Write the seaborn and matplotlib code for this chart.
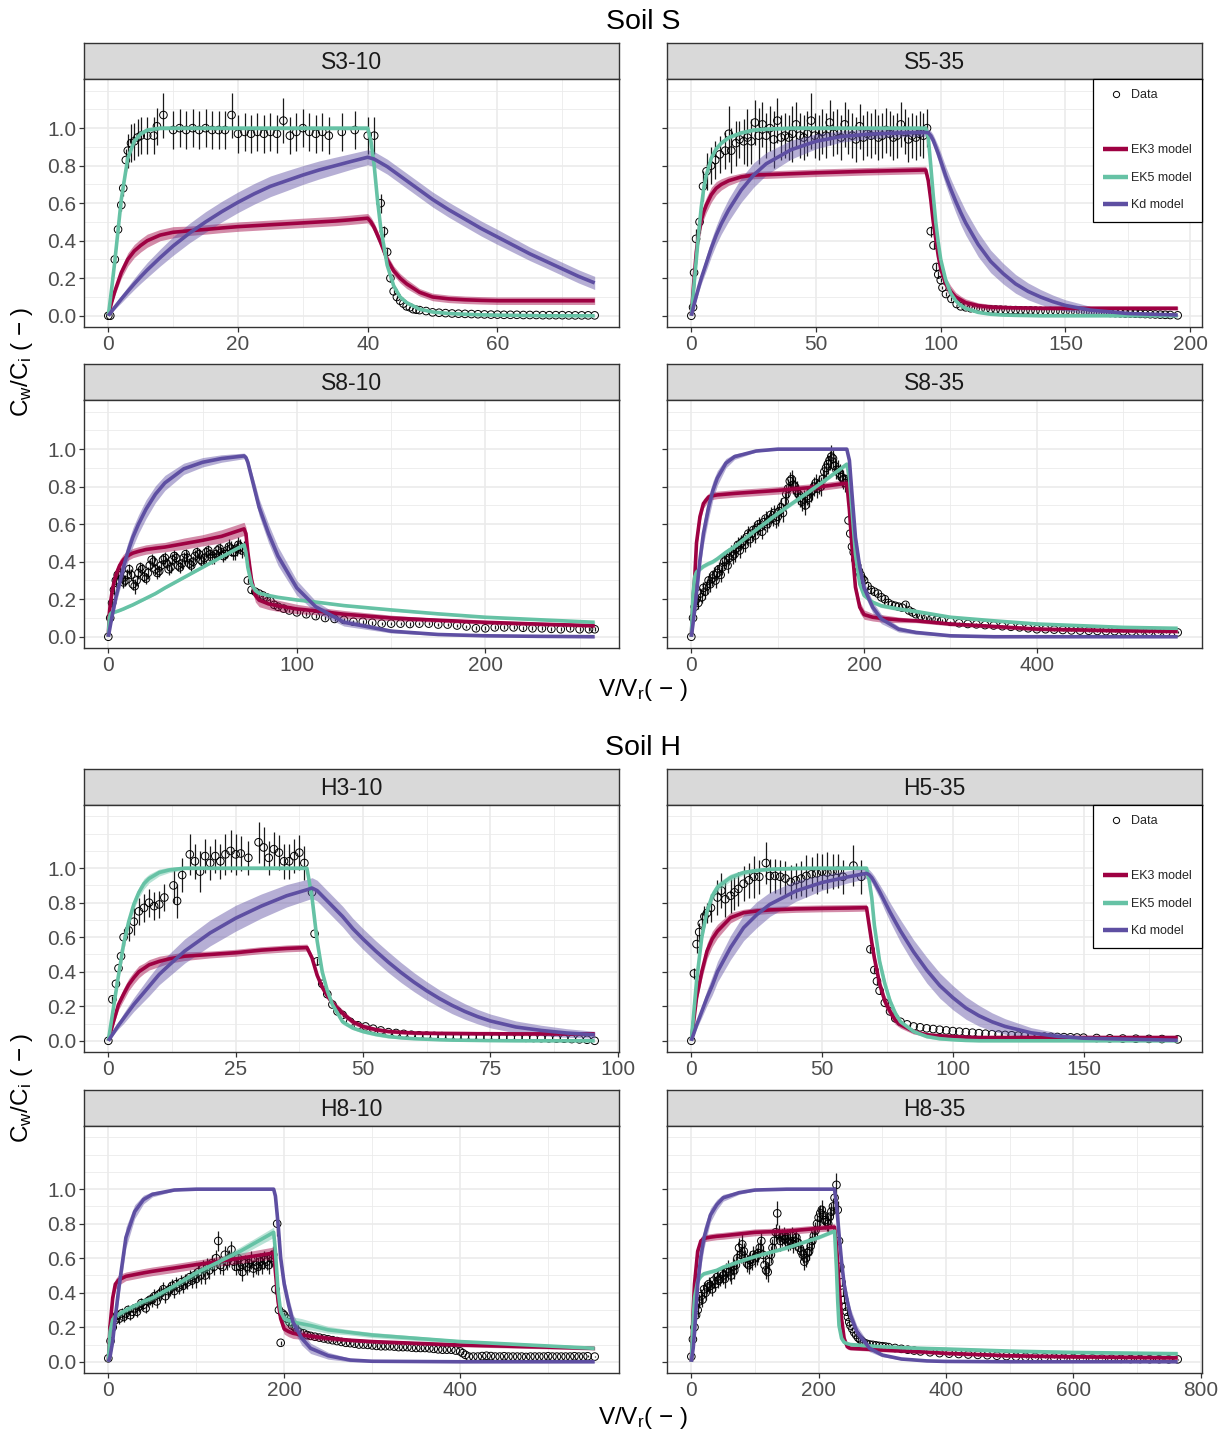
import sys
import numpy as np
import matplotlib
matplotlib.use("Agg")
import matplotlib.pyplot as plt
from matplotlib.ticker import FixedLocator, MultipleLocator, FormatStrFormatter
from matplotlib.lines import Line2D
import seaborn as sns

sns.set_theme(style="white")
plt.rcParams['font.family'] = ['Liberation Sans', 'DejaVu Sans']
plt.rcParams['mathtext.fontset'] = 'custom'
plt.rcParams['mathtext.rm'] = 'Liberation Sans'
plt.rcParams['mathtext.it'] = 'Liberation Sans:italic'
plt.rcParams['mathtext.default'] = 'regular'

# ---------------------------------------------------------------- data
MODEL_COLORS = {'EK3': '#9E0142', 'EK5': '#66C2A5', 'Kd': '#5E4FA2'}
LEGEND_LABELS = ['Data', 'EK3 model', 'EK5 model', 'Kd model']

# ---- S3-10
S310_x = [0, 0.5, 1, 2, 3, 4, 5, 6, 8, 10,
          12.5, 15, 17.5, 20, 22.5, 25, 27.5, 30, 32.5, 35,
          37.5, 40, 40.5, 41, 41.5, 42, 43, 44, 45, 46,
          48, 50, 52.5, 55, 57.5, 60, 62.5, 65, 67.5, 70,
          72.5, 75]
S310_ek3 = [0, 0.07, 0.13, 0.23, 0.30, 0.345, 0.375, 0.40, 0.43, 0.445,
            0.453, 0.46, 0.468, 0.475, 0.48, 0.485, 0.49, 0.495, 0.50, 0.505,
            0.512, 0.52, 0.50, 0.47, 0.43, 0.39, 0.30, 0.24, 0.20, 0.17,
            0.125, 0.10, 0.09, 0.085, 0.082, 0.08, 0.08, 0.08, 0.08, 0.08,
            0.08, 0.08]
S310_ek3w = [0, 0.01, 0.02, 0.03, 0.035, 0.035, 0.035, 0.035, 0.03, 0.03,
             0.025, 0.025, 0.025, 0.025, 0.025, 0.025, 0.025, 0.025, 0.025, 0.025,
             0.025, 0.025, 0.025, 0.025, 0.025, 0.025, 0.025, 0.025, 0.025, 0.025,
             0.02, 0.02, 0.02, 0.02, 0.02, 0.02, 0.02, 0.02, 0.02, 0.02,
             0.02, 0.02]
S310_ek5 = [0, 0.14, 0.29, 0.62, 0.84, 0.93, 0.97, 0.99, 1.0, 1.0,
            1.0, 1.0, 1.0, 1.0, 1.0, 1.0, 1.0, 1.0, 1.0, 1.0,
            1.0, 1.0, 0.93, 0.80, 0.62, 0.47, 0.27, 0.16, 0.10, 0.07,
            0.035, 0.02, 0.012, 0.008, 0.005, 0.003, 0.002, 0.001, 0, 0,
            0, 0]
S310_ek5w = [0, 0.01, 0.01, 0.01, 0.01, 0.01, 0.01, 0.01, 0.01, 0.01,
             0.01, 0.01, 0.01, 0.01, 0.01, 0.01, 0.01, 0.01, 0.01, 0.01,
             0.01, 0.01, 0.01, 0.01, 0.01, 0.01, 0.01, 0.01, 0.01, 0.01,
             0.005, 0.005, 0.005, 0.005, 0.005, 0.005, 0.005, 0.005, 0.005, 0.005,
             0.005, 0.005]
S310_kd = [0, 0.023, 0.045, 0.089, 0.13, 0.17, 0.208, 0.244, 0.31, 0.372,
           0.44, 0.50, 0.555, 0.605, 0.65, 0.69, 0.72, 0.75, 0.777, 0.80,
           0.823, 0.845, 0.84, 0.835, 0.825, 0.815, 0.795, 0.77, 0.745, 0.72,
           0.67, 0.62, 0.565, 0.515, 0.465, 0.42, 0.375, 0.33, 0.29, 0.25,
           0.21, 0.175]
S310_kdw = [0, 0.005, 0.01, 0.02, 0.025, 0.03, 0.035, 0.04, 0.045, 0.05,
            0.052, 0.055, 0.055, 0.055, 0.055, 0.055, 0.053, 0.05, 0.048, 0.045,
            0.042, 0.04, 0.04, 0.04, 0.04, 0.04, 0.04, 0.04, 0.04, 0.04,
            0.04, 0.04, 0.04, 0.04, 0.04, 0.04, 0.038, 0.036, 0.035, 0.035,
            0.035, 0.035]
S310_dx = [0, 0.3, 1, 1.5, 2, 2.3, 2.7, 3, 3.5, 4,
           4.5, 5, 6, 7, 7.5, 8.5, 10, 11, 12, 13,
           14, 15, 16, 17, 18, 19, 20, 21, 22, 23,
           24, 25, 26, 27, 28, 29, 30, 31, 32, 33,
           34, 36, 38, 40, 41, 42, 42.5, 43, 43.5, 44,
           44.5, 45, 45.5, 46, 46.5, 47, 47.5, 48, 49, 50,
           51, 52, 53, 54, 55, 56, 57, 58, 59, 60,
           61, 62, 63, 64, 65, 66, 67, 68, 69, 70,
           71, 72, 73, 74, 75]
S310_dy = [0, 0, 0.30, 0.46, 0.59, 0.68, 0.83, 0.88, 0.92, 0.93,
           0.95, 0.96, 0.96, 0.96, 1.01, 1.07, 0.99, 1.0, 0.99, 1.0,
           0.99, 1.0, 0.99, 0.99, 0.99, 1.07, 0.97, 0.98, 0.97, 0.98,
           0.97, 0.98, 0.97, 1.04, 0.96, 0.98, 1.0, 0.98, 0.97, 0.98,
           0.96, 0.98, 0.99, 0.96, 0.96, 0.60, 0.45, 0.34, 0.20, 0.13,
           0.10, 0.08, 0.065, 0.05, 0.045, 0.035, 0.032, 0.03, 0.025, 0.018,
           0.016, 0.014, 0.012, 0.011, 0.01, 0.009, 0.008, 0.007, 0.006, 0.006,
           0.005, 0.005, 0.005, 0.004, 0.004, 0.004, 0.003, 0.003, 0.003, 0.003,
           0.002, 0.002, 0.002, 0.002, 0.002]
S310_de = [0, 0, 0.02, 0.02, 0.03, 0.04, 0.06, 0.09, 0.1, 0.1,
           0.1, 0.1, 0.1, 0.1, 0.1, 0.12, 0.1, 0.1, 0.1, 0.1,
           0.1, 0.1, 0.1, 0.1, 0.1, 0.12, 0.1, 0.1, 0.1, 0.1,
           0.1, 0.1, 0.1, 0.12, 0.1, 0.1, 0.1, 0.1, 0.1, 0.1,
           0.1, 0.1, 0.1, 0.1, 0.1, 0.05, 0.03, 0.02, 0.02, 0.01,
           0.01, 0, 0, 0, 0, 0, 0, 0, 0, 0,
           0, 0, 0, 0, 0, 0, 0, 0, 0, 0,
           0, 0, 0, 0, 0, 0, 0, 0, 0, 0,
           0, 0, 0, 0, 0]

# ---- S5-35
S535_x = [0, 1, 2, 3, 4, 5, 6, 8, 10, 12,
          15, 20, 25, 30, 40, 50, 60, 70, 80, 94,
          95, 96, 97, 98, 99, 100, 102, 104, 106, 108,
          110, 115, 120, 125, 130, 135, 140, 145, 150, 160,
          175, 195]
S535_ek3 = [0, 0.18, 0.34, 0.44, 0.51, 0.555, 0.59, 0.645, 0.68, 0.70,
            0.72, 0.74, 0.75, 0.752, 0.757, 0.762, 0.766, 0.77, 0.773, 0.777,
            0.72, 0.62, 0.50, 0.41, 0.32, 0.25, 0.17, 0.13, 0.10, 0.085,
            0.07, 0.054, 0.046, 0.044, 0.042, 0.041, 0.04, 0.04, 0.04, 0.04,
            0.04, 0.04]
S535_ek3w = [0, 0.02, 0.03, 0.035, 0.04, 0.04, 0.04, 0.04, 0.035, 0.03,
             0.025, 0.02, 0.02, 0.02, 0.02, 0.02, 0.02, 0.02, 0.02, 0.02,
             0.02, 0.025, 0.03, 0.03, 0.035, 0.035, 0.035, 0.03, 0.025, 0.02,
             0.02, 0.015, 0.015, 0.012, 0.01, 0.01, 0.01, 0.01, 0.01, 0.01,
             0.01, 0.01]
S535_ek5 = [0, 0.15, 0.30, 0.45, 0.58, 0.68, 0.75, 0.84, 0.89, 0.92,
            0.95, 0.975, 0.99, 0.995, 1.0, 1.0, 1.0, 1.0, 1.0, 1.0,
            0.95, 0.80, 0.64, 0.50, 0.39, 0.30, 0.19, 0.12, 0.08, 0.055,
            0.04, 0.018, 0.008, 0.004, 0.002, 0.001, 0, 0, 0, 0,
            0, 0]
S535_ek5w = [0, 0.01, 0.01, 0.01, 0.01, 0.01, 0.01, 0.01, 0.01, 0.01,
             0.01, 0.01, 0.01, 0.01, 0.01, 0.01, 0.01, 0.01, 0.01, 0.01,
             0.01, 0.01, 0.01, 0.01, 0.01, 0.01, 0.01, 0.01, 0.01, 0.01,
             0.01, 0.005, 0.005, 0.005, 0.005, 0.005, 0.005, 0.005, 0.005, 0.005,
             0.005, 0.005]
S535_kd = [0, 0.054, 0.105, 0.154, 0.20, 0.24, 0.28, 0.36, 0.43, 0.49,
           0.565, 0.67, 0.75, 0.81, 0.885, 0.93, 0.955, 0.967, 0.973, 0.977,
           0.975, 0.96, 0.935, 0.90, 0.865, 0.825, 0.745, 0.675, 0.61, 0.55,
           0.495, 0.38, 0.29, 0.225, 0.17, 0.13, 0.10, 0.075, 0.055, 0.03,
           0.012, 0.004]
S535_kdw = [0, 0.01, 0.02, 0.025, 0.03, 0.035, 0.04, 0.045, 0.05, 0.055,
            0.06, 0.065, 0.065, 0.06, 0.05, 0.04, 0.03, 0.025, 0.02, 0.02,
            0.02, 0.025, 0.03, 0.035, 0.04, 0.045, 0.05, 0.055, 0.06, 0.065,
            0.065, 0.065, 0.06, 0.055, 0.05, 0.045, 0.04, 0.035, 0.03, 0.02,
            0.01, 0.005]
S535_dx = [0, 0.7, 1.1, 1.9, 3.3, 4.7, 6.1, 7.9, 9.6, 11.4,
           13.6, 15, 16, 17.9, 19.3, 21, 22.5, 24, 25.5, 27,
           28.5, 30, 31.5, 33, 34.5, 36, 37.5, 39, 40.5, 42,
           43.5, 45, 46.5, 48, 49.5, 51, 52.5, 54, 55.5, 57,
           58.5, 60, 61.5, 63, 64.5, 66, 67.5, 69, 70.5, 72,
           73.5, 75, 76.5, 78, 79.5, 81, 82.5, 84, 85.5, 87,
           88.5, 90, 91.5, 93, 94.5, 96, 97.1, 98.3, 99, 100,
           100.7, 102.1, 104.3, 106.4,
           108, 110, 112, 114, 116, 118, 120, 122, 124, 126,
           128, 130, 132, 134, 136, 138, 140, 142, 144, 146,
           148, 150, 152, 154, 156, 158, 160, 162, 164, 166,
           168, 170, 172, 174, 176, 178, 180, 182, 184, 186,
           188, 190, 192, 195]
S535_dy = [0, 0.045, 0.23, 0.41, 0.50, 0.69, 0.77, 0.80, 0.83, 0.86,
           0.88, 0.97, 0.88, 0.92, 0.94, 0.93, 0.95, 0.93, 1.03, 0.96,
           1.02, 0.96, 1.00, 0.94, 1.04, 0.95, 0.96, 0.95, 0.97, 1.02,
           0.96, 0.95, 0.97, 1.04, 0.96, 0.95, 0.98, 0.96, 1.03, 0.97,
           0.98, 0.95, 1.02, 0.98, 0.96, 0.94, 1.01, 0.95, 0.97, 0.96,
           0.98, 0.95, 0.96, 0.99, 0.97, 0.95, 0.96, 1.02, 0.98, 0.94,
           0.96, 0.95, 0.97, 0.96, 1.0, 0.45, 0.375, 0.26, 0.22, 0.19,
           0.15, 0.116, 0.09, 0.0625,
           0.05, 0.045, 0.04, 0.038, 0.036, 0.035, 0.034, 0.033, 0.032, 0.031,
           0.03, 0.03, 0.029, 0.028, 0.028, 0.027, 0.026, 0.025, 0.025, 0.024,
           0.023, 0.022, 0.021, 0.02, 0.02, 0.019, 0.018, 0.017, 0.016, 0.016,
           0.015, 0.014, 0.013, 0.012, 0.012, 0.011, 0.01, 0.009, 0.008, 0.007,
           0.006, 0.005, 0.004, 0.002]
S535_de = [0, 0.02, 0.03, 0.05, 0.06, 0.08, 0.1, 0.1, 0.1, 0.1,
           0.1, 0.15, 0.12, 0.12, 0.1, 0.12, 0.15, 0.12, 0.12, 0.15,
           0.12, 0.12, 0.12, 0.15, 0.12, 0.12, 0.12, 0.12, 0.15, 0.12,
           0.12, 0.12, 0.12, 0.15, 0.12, 0.12, 0.12, 0.12, 0.12, 0.12,
           0.12, 0.12, 0.12, 0.12, 0.12, 0.12, 0.12, 0.12, 0.12, 0.12,
           0.12, 0.12, 0.12, 0.12, 0.12, 0.12, 0.12, 0.12, 0.12, 0.12,
           0.12, 0.12, 0.12, 0.12, 0.1, 0.03, 0.02, 0.02, 0.02, 0.01,
           0.01, 0.01, 0.01, 0,
           0, 0, 0, 0, 0, 0, 0, 0, 0, 0,
           0, 0, 0, 0, 0, 0, 0, 0, 0, 0,
           0, 0, 0, 0, 0, 0, 0, 0, 0, 0,
           0, 0, 0, 0, 0, 0, 0, 0, 0, 0,
           0, 0, 0, 0]

# ---- S8-10
S810_x = [0, 0.5, 1, 2, 3, 4, 6, 8, 10, 13,
          16, 20, 25, 30, 40, 50, 60, 72, 73, 74,
          76, 78, 80, 85, 90, 100, 110, 125, 150, 175,
          200, 230, 258]
S810_ek3 = [0, 0.12, 0.17, 0.24, 0.29, 0.33, 0.38, 0.41, 0.43, 0.446,
            0.455, 0.465, 0.472, 0.478, 0.496, 0.514, 0.535, 0.575, 0.55, 0.45,
            0.30, 0.22, 0.195, 0.175, 0.165, 0.148, 0.138, 0.12, 0.10, 0.088,
            0.077, 0.067, 0.059]
S810_ek3w = [0, 0.02, 0.025, 0.03, 0.03, 0.03, 0.03, 0.03, 0.025, 0.025,
             0.025, 0.025, 0.025, 0.025, 0.03, 0.03, 0.035, 0.035, 0.035, 0.035,
             0.035, 0.035, 0.035, 0.03, 0.03, 0.025, 0.02, 0.02, 0.015, 0.01,
             0.01, 0.01, 0.01]
S810_ek5 = [0, 0.09, 0.12, 0.13, 0.13, 0.133, 0.14, 0.148, 0.157, 0.17,
            0.185, 0.205, 0.23, 0.26, 0.315, 0.37, 0.425, 0.49, 0.45, 0.37,
            0.28, 0.246, 0.232, 0.22, 0.21, 0.196, 0.185, 0.166, 0.143, 0.122,
            0.104, 0.09, 0.077]
S810_ek5w = [0, 0.005, 0.005, 0.005, 0.005, 0.005, 0.005, 0.005, 0.005, 0.005,
             0.005, 0.005, 0.005, 0.005, 0.005, 0.005, 0.005, 0.005, 0.005, 0.005,
             0.005, 0.005, 0.005, 0.005, 0.005, 0.005, 0.005, 0.005, 0.005, 0.005,
             0.005, 0.005, 0.005]
S810_kd = [0, 0.028, 0.056, 0.11, 0.16, 0.21, 0.29, 0.37, 0.44, 0.53,
           0.60, 0.68, 0.76, 0.82, 0.895, 0.93, 0.95, 0.964, 0.955, 0.93,
           0.85, 0.77, 0.69, 0.55, 0.43, 0.26, 0.16, 0.077, 0.03, 0.012,
           0.005, 0.002, 0]
S810_kdw = [0, 0.01, 0.015, 0.02, 0.03, 0.035, 0.04, 0.045, 0.05, 0.05,
            0.05, 0.05, 0.045, 0.04, 0.03, 0.025, 0.02, 0.015, 0.015, 0.02,
            0.03, 0.04, 0.045, 0.05, 0.05, 0.04, 0.03, 0.02, 0.01, 0.005,
            0.003, 0.002, 0.002]
S810_dx = [0, 1, 2, 3, 4, 5, 6, 7, 8, 9,
           10, 11, 12, 13, 14, 15, 16, 17, 18, 19,
           20, 21, 22, 23, 24, 25, 26, 27, 28, 29,
           30, 31, 32, 33, 34, 35, 36, 37, 38, 39,
           40, 41, 42, 43, 44, 45, 46, 47, 48, 49,
           50, 51, 52, 53, 54, 55, 56, 57, 58, 59,
           60, 61, 62, 63, 64, 65, 66, 67, 68, 69,
           70, 71, 72,
           74, 76, 78, 80, 82, 84, 86, 88, 90, 93,
           96, 100, 105, 110, 115, 120, 125, 130, 135, 140,
           145, 150, 155, 160, 165, 170, 175, 180, 185, 190,
           195, 200, 205, 210, 215, 220, 225, 230, 235, 240,
           245, 250, 255, 258]
S810_dy = [0.0, 0.10, 0.18, 0.25, 0.30, 0.33, 0.34, 0.31, 0.29, 0.30,
           0.33, 0.36, 0.33, 0.28, 0.27, 0.30, 0.34, 0.37, 0.36, 0.32,
           0.31, 0.34, 0.38, 0.41, 0.40, 0.36, 0.34, 0.35, 0.38, 0.41,
           0.42, 0.39, 0.36, 0.37, 0.41, 0.43, 0.42, 0.38, 0.37, 0.39,
           0.42, 0.44, 0.42, 0.39, 0.38, 0.40, 0.43, 0.45, 0.44, 0.41,
           0.40, 0.42, 0.45, 0.46, 0.44, 0.42, 0.42, 0.44, 0.46, 0.47,
           0.45, 0.43, 0.44, 0.46, 0.48, 0.47, 0.45, 0.45, 0.47, 0.49,
           0.48, 0.46, 0.47,
           0.30, 0.25, 0.24, 0.23, 0.22, 0.21, 0.19, 0.17, 0.16, 0.15,
           0.14, 0.13, 0.12, 0.11, 0.10, 0.095, 0.09, 0.08, 0.08, 0.075,
           0.07, 0.07, 0.07, 0.068, 0.07, 0.07, 0.065, 0.065, 0.06, 0.055,
           0.045, 0.045, 0.05, 0.05, 0.05, 0.048, 0.045, 0.045, 0.042, 0.04,
           0.045, 0.04, 0.04, 0.04]
S810_de = [0, 0.02, 0.02, 0.03, 0.03, 0.03, 0.03, 0.03, 0.03, 0.03,
           0.03, 0.03, 0.03, 0.03, 0.04, 0.03, 0.03, 0.03, 0.03, 0.03,
           0.03, 0.03, 0.03, 0.03, 0.03, 0.03, 0.03, 0.03, 0.03, 0.03,
           0.03, 0.03, 0.03, 0.03, 0.03, 0.03, 0.03, 0.03, 0.03, 0.03,
           0.03, 0.03, 0.03, 0.03, 0.03, 0.03, 0.03, 0.03, 0.03, 0.03,
           0.03, 0.03, 0.03, 0.03, 0.03, 0.03, 0.03, 0.03, 0.03, 0.03,
           0.03, 0.03, 0.03, 0.04, 0.04, 0.04, 0.04, 0.04, 0.04, 0.04,
           0.04, 0.04, 0.04,
           0.015, 0.015, 0.01, 0.01, 0.01, 0.01, 0.01, 0.01, 0.01, 0.01,
           0.01, 0.01, 0.01, 0.01, 0.01, 0.01, 0.01, 0.01, 0.01, 0.01,
           0.01, 0.01, 0.01, 0.01, 0.01, 0.01, 0.01, 0.01, 0.01, 0.01,
           0.01, 0.01, 0.01, 0.01, 0.01, 0.01, 0.01, 0.01, 0.01, 0.01,
           0.01, 0.01, 0.01, 0.01]

# ---- S8-35
S835_x = [0, 2, 4, 6, 10, 14, 20, 25, 30, 40,
          50, 75, 100, 150, 180, 183, 186, 190, 195, 200,
          210, 220, 240, 260, 300, 350, 400, 500, 563]
S835_ek3 = [0, 0.2, 0.32, 0.50, 0.64, 0.71, 0.745, 0.752, 0.756, 0.76,
            0.764, 0.772, 0.78, 0.80, 0.818, 0.675, 0.48, 0.264, 0.157, 0.118,
            0.104, 0.098, 0.09, 0.085, 0.068, 0.055, 0.041, 0.032, 0.029]
S835_ek3w = [0, 0.02, 0.03, 0.03, 0.03, 0.025, 0.02, 0.02, 0.02, 0.02,
             0.02, 0.02, 0.02, 0.02, 0.02, 0.025, 0.03, 0.03, 0.03, 0.025,
             0.02, 0.02, 0.015, 0.01, 0.01, 0.01, 0.01, 0.01, 0.01]
S835_ek5 = [0, 0.23, 0.32, 0.345, 0.36, 0.375, 0.39, 0.40, 0.415, 0.45,
            0.48, 0.57, 0.657, 0.818, 0.92, 0.85, 0.675, 0.44, 0.28, 0.22,
            0.184, 0.165, 0.148, 0.135, 0.104, 0.085, 0.068, 0.05, 0.045]
S835_ek5w = [0, 0.01, 0.01, 0.01, 0.01, 0.01, 0.01, 0.01, 0.01, 0.01,
             0.01, 0.01, 0.01, 0.01, 0.01, 0.01, 0.01, 0.01, 0.01, 0.01,
             0.01, 0.01, 0.01, 0.01, 0.005, 0.005, 0.005, 0.005, 0.005]
S835_kd = [0, 0.07, 0.15, 0.23, 0.41, 0.55, 0.69, 0.78, 0.845, 0.925,
           0.96, 0.99, 1.0, 1.0, 1.0, 0.94, 0.76, 0.53, 0.37, 0.26,
           0.157, 0.095, 0.04, 0.023, 0.005, 0, 0, 0, 0]
S835_kdw = [0, 0.01, 0.02, 0.03, 0.05, 0.06, 0.06, 0.05, 0.04, 0.025,
            0.015, 0.005, 0.003, 0.002, 0.002, 0.01, 0.02, 0.03, 0.035, 0.035,
            0.03, 0.025, 0.015, 0.01, 0.005, 0.002, 0.002, 0.002, 0.002]
S835_dx = [0, 2, 4, 6, 8, 10, 12, 14, 16, 18,
           20, 22, 24, 26, 28, 30, 32, 34, 36, 38,
           40, 42, 44, 46, 48, 50, 52, 54, 56, 58,
           60, 62, 64, 66, 68, 70, 72, 74, 76, 78,
           80, 82, 84, 86, 88, 90, 92, 94, 96, 98,
           100, 102, 104, 106, 108, 110, 112, 114, 116, 118,
           120, 122, 124, 126, 128, 130, 132, 134, 136, 138,
           140, 142, 144, 146, 148, 150, 152, 154, 156, 158,
           160, 162, 164, 166, 168, 170, 172, 174, 176, 178,
           180,
           182, 184, 186, 188, 190, 192, 194, 196, 198, 200,
           204, 208, 212, 216, 220, 224, 228, 232, 236, 240,
           244, 248, 252, 256, 260,
           266, 272, 278, 284, 290,
           300, 310, 320, 330, 340, 350, 360, 370, 380, 390,
           400, 410, 420, 430, 440, 450, 460, 470, 480, 490,
           500, 510, 520, 530, 540, 550,
           563]
S835_dy = [0.00, 0.10, 0.16, 0.20, 0.18, 0.23, 0.21, 0.26, 0.24, 0.27,
           0.30, 0.28, 0.31, 0.33, 0.30, 0.34, 0.36, 0.33, 0.37, 0.40,
           0.41, 0.38, 0.42, 0.45, 0.43, 0.44, 0.47, 0.49, 0.46, 0.50,
           0.51, 0.49, 0.53, 0.55, 0.52, 0.55, 0.57, 0.54, 0.58, 0.60,
           0.585, 0.56, 0.61, 0.63, 0.60, 0.62, 0.65, 0.63, 0.66, 0.62,
           0.64, 0.67, 0.69, 0.66, 0.72, 0.76, 0.79, 0.83, 0.84, 0.81,
           0.80, 0.78, 0.76, 0.74, 0.72, 0.73, 0.70, 0.75, 0.74, 0.77,
           0.78, 0.80, 0.82, 0.79, 0.81, 0.80, 0.84, 0.88, 0.90, 0.92,
           0.94, 0.96, 0.95, 0.91, 0.89, 0.89, 0.87, 0.85, 0.84, 0.82,
           0.84,
           0.62, 0.55, 0.48, 0.45, 0.41, 0.38, 0.35, 0.33, 0.31, 0.30,
           0.27, 0.25, 0.24, 0.23, 0.21, 0.20, 0.18, 0.17, 0.165, 0.16,
           0.155, 0.17, 0.14, 0.13, 0.12,
           0.11, 0.10, 0.095, 0.09, 0.086,
           0.08, 0.072, 0.068, 0.066, 0.062, 0.06, 0.056, 0.053, 0.05, 0.045,
           0.04, 0.04, 0.038, 0.036, 0.034, 0.033, 0.032, 0.031, 0.03, 0.03,
           0.029, 0.028, 0.027, 0.026, 0.025, 0.024,
           0.023]
S835_de = [0, 0.02, 0.03, 0.03, 0.03, 0.03, 0.03, 0.03, 0.04, 0.04,
           0.04, 0.04, 0.04, 0.04, 0.04, 0.04, 0.04, 0.04, 0.04, 0.04,
           0.04, 0.04, 0.04, 0.04, 0.04, 0.04, 0.04, 0.04, 0.04, 0.04,
           0.04, 0.04, 0.04, 0.04, 0.04, 0.04, 0.04, 0.04, 0.04, 0.04,
           0.04, 0.04, 0.04, 0.04, 0.04, 0.04, 0.04, 0.04, 0.04, 0.04,
           0.05, 0.05, 0.05, 0.05, 0.05, 0.05, 0.05, 0.05, 0.05, 0.05,
           0.05, 0.05, 0.05, 0.05, 0.05, 0.05, 0.05, 0.05, 0.05, 0.05,
           0.05, 0.05, 0.05, 0.05, 0.05, 0.05, 0.05, 0.05, 0.05, 0.05,
           0.05, 0.06, 0.05, 0.05, 0.05, 0.05, 0.05, 0.05, 0.05, 0.05,
           0.05,
           0.03, 0.03, 0.03, 0.03, 0.03, 0.03, 0.03, 0.03, 0.03, 0.03,
           0.015, 0.015, 0.015, 0.015, 0.015, 0.015, 0.015, 0.015, 0.015, 0.015,
           0.015, 0.015, 0.015, 0.015, 0.015,
           0.01, 0.01, 0.01, 0.01, 0.01,
           0.005, 0.005, 0.005, 0.005, 0.005, 0.005, 0.005, 0.005, 0.005, 0.005,
           0.005, 0.005, 0.005, 0.005, 0.005, 0.005, 0.005, 0.005, 0.005, 0.005,
           0.005, 0.005, 0.005, 0.005, 0.005, 0.005,
           0.005]

# ---- H3-10
H310_x = [0, 1, 2, 3, 4, 5, 6, 7, 8, 10,
          12, 15, 20, 25, 30, 35, 39, 40, 41, 42,
          43, 44, 46, 48, 50, 52.5, 55, 57.5, 60, 62.5,
          65, 67.5, 70, 72.5, 75, 80, 85, 90, 95.5]
H310_ek3 = [0, 0.11, 0.21, 0.27, 0.325, 0.365, 0.40, 0.42, 0.44, 0.46,
            0.475, 0.49, 0.50, 0.51, 0.525, 0.535, 0.54, 0.48, 0.38, 0.31,
            0.26, 0.22, 0.16, 0.11, 0.083, 0.065, 0.054, 0.049, 0.045, 0.044,
            0.043, 0.0425, 0.042, 0.041, 0.041, 0.04, 0.04, 0.04, 0.04]
H310_ek3w = [0, 0.02, 0.03, 0.035, 0.035, 0.035, 0.035, 0.03, 0.03, 0.03,
             0.025, 0.025, 0.02, 0.02, 0.02, 0.02, 0.02, 0.02, 0.02, 0.02,
             0.02, 0.02, 0.02, 0.015, 0.015, 0.012, 0.01, 0.01, 0.01, 0.01,
             0.01, 0.01, 0.01, 0.01, 0.01, 0.01, 0.01, 0.01, 0.01]
H310_ek5 = [0, 0.19, 0.38, 0.56, 0.69, 0.79, 0.86, 0.91, 0.94, 0.975,
            0.99, 1.0, 1.0, 1.0, 1.0, 1.0, 1.0, 0.83, 0.58, 0.40,
            0.29, 0.21, 0.11, 0.074, 0.054, 0.037, 0.025, 0.017, 0.012, 0.009,
            0.006, 0.004, 0.003, 0.002, 0.001, 0, 0, 0, 0]
H310_ek5w = [0, 0.01, 0.02, 0.03, 0.03, 0.03, 0.03, 0.03, 0.025, 0.02,
             0.015, 0.01, 0.01, 0.01, 0.01, 0.01, 0.01, 0.02, 0.02, 0.02,
             0.02, 0.02, 0.015, 0.01, 0.01, 0.01, 0.01, 0.005, 0.005, 0.005,
             0.005, 0.005, 0.005, 0.005, 0.005, 0.005, 0.005, 0.005, 0.005]
H310_kd = [0, 0.045, 0.09, 0.13, 0.17, 0.21, 0.245, 0.28, 0.315, 0.385,
           0.44, 0.52, 0.625, 0.71, 0.78, 0.84, 0.875, 0.885, 0.87, 0.84,
           0.81, 0.78, 0.72, 0.65, 0.59, 0.52, 0.455, 0.395, 0.34, 0.29,
           0.245, 0.205, 0.17, 0.14, 0.115, 0.08, 0.06, 0.045, 0.035]
H310_kdw = [0, 0.01, 0.02, 0.03, 0.035, 0.04, 0.045, 0.05, 0.055, 0.06,
            0.065, 0.07, 0.075, 0.075, 0.07, 0.065, 0.06, 0.06, 0.06, 0.06,
            0.06, 0.06, 0.06, 0.06, 0.06, 0.06, 0.06, 0.058, 0.055, 0.053,
            0.05, 0.048, 0.045, 0.042, 0.04, 0.035, 0.03, 0.025, 0.02]
H310_dx = [0, 0.8, 1.5, 2, 2.5, 3, 4, 5, 6, 7,
           8, 9, 10, 11, 12.8, 13.5, 14.5, 16, 17, 18,
           19, 20, 21, 22, 23, 24, 25, 26, 27.5, 29.5,
           30.5, 31.5, 32.5, 33.5, 34.5, 35.5, 36.5, 37.5, 38.5, 40,
           40.5, 41, 42, 43, 44, 45,
           46, 47.5, 49, 50.5, 52, 53.5, 55, 56.5, 58, 59.5,
           61, 62.5, 64, 65.5, 67, 68.5, 70, 71.5, 73, 74.5,
           76, 77.5, 79, 80.5, 82, 83.5, 85, 86.5, 88, 89.5,
           91, 92.5, 94, 95.5]
H310_dy = [0, 0.24, 0.33, 0.42, 0.49, 0.60, 0.64, 0.69, 0.75, 0.77,
           0.80, 0.78, 0.79, 0.83, 0.90, 0.81, 0.96, 1.08, 1.04, 0.98,
           1.07, 1.03, 1.07, 1.04, 1.08, 1.10, 1.08, 1.085, 1.06, 1.15,
           1.12, 1.06, 1.11, 1.09, 1.04, 1.04, 1.07, 1.09, 1.03, 0.86,
           0.62, 0.46, 0.33, 0.27, 0.21, 0.17,
           0.15, 0.11, 0.09, 0.083, 0.07, 0.06, 0.05, 0.045, 0.04, 0.035,
           0.032, 0.03, 0.028, 0.027, 0.026, 0.025, 0.024, 0.023, 0.022, 0.021,
           0.02, 0.02, 0.019, 0.018, 0.017, 0.016, 0.015, 0.014, 0.013, 0.012,
           0.01, 0.008, 0.006, 0.0]
H310_de = [0, 0.02, 0.02, 0.03, 0.04, 0.05, 0.06, 0.08, 0.08, 0.08,
           0.08, 0.08, 0.08, 0.08, 0.1, 0.1, 0.1, 0.12, 0.1, 0.12,
           0.1, 0.1, 0.1, 0.1, 0.12, 0.12, 0.12, 0.1, 0.1, 0.12,
           0.12, 0.1, 0.1, 0.1, 0.1, 0.1, 0.1, 0.1, 0.1, 0.03,
           0.02, 0.02, 0.01, 0.01, 0.01, 0.01,
           0.01, 0, 0, 0, 0, 0, 0, 0, 0, 0,
           0, 0, 0, 0, 0, 0, 0, 0, 0, 0,
           0, 0, 0, 0, 0, 0, 0, 0, 0, 0,
           0, 0, 0, 0]

# ---- H5-35
H535_x = [0, 2, 4, 6, 8, 10, 15, 20, 25, 30,
          40, 50, 60, 67, 68, 69, 70, 72, 74, 76,
          78, 80, 85, 90, 95, 100, 105, 110, 115, 120,
          130, 140, 150, 186]
H535_ek3 = [0, 0.25, 0.40, 0.52, 0.59, 0.635, 0.713, 0.742, 0.752, 0.758,
            0.764, 0.767, 0.769, 0.771, 0.67, 0.57, 0.48, 0.33, 0.23, 0.17,
            0.12, 0.093, 0.054, 0.035, 0.029, 0.025, 0.021, 0.019, 0.019, 0.019,
            0.019, 0.019, 0.019, 0.019]
H535_ek3w = [0, 0.03, 0.04, 0.045, 0.045, 0.04, 0.03, 0.02, 0.02, 0.02,
             0.02, 0.02, 0.02, 0.02, 0.02, 0.025, 0.03, 0.035, 0.035, 0.03,
             0.025, 0.02, 0.015, 0.01, 0.01, 0.01, 0.01, 0.01, 0.01, 0.01,
             0.01, 0.01, 0.01, 0.01]
H535_ek5 = [0, 0.345, 0.60, 0.75, 0.84, 0.89, 0.946, 0.975, 0.987, 0.994,
            0.999, 1.0, 1.0, 1.0, 0.93, 0.83, 0.67, 0.46, 0.33, 0.23,
            0.16, 0.11, 0.054, 0.025, 0.012, 0.006, 0.002, 0, 0, 0,
            0, 0, 0, 0]
H535_ek5w = [0, 0.02, 0.025, 0.03, 0.03, 0.025, 0.02, 0.015, 0.01, 0.01,
             0.01, 0.01, 0.01, 0.01, 0.015, 0.02, 0.025, 0.03, 0.03, 0.025,
             0.02, 0.015, 0.01, 0.01, 0.008, 0.005, 0.005, 0.005, 0.005, 0.005,
             0.005, 0.005, 0.005, 0.005]
H535_kd = [0, 0.09, 0.17, 0.25, 0.32, 0.40, 0.54, 0.655, 0.73, 0.79,
           0.868, 0.917, 0.95, 0.97, 0.962, 0.945, 0.92, 0.865, 0.805, 0.745,
           0.69, 0.636, 0.515, 0.41, 0.32, 0.25, 0.19, 0.145, 0.11, 0.083,
           0.046, 0.026, 0.015, 0.003]
H535_kdw = [0, 0.02, 0.035, 0.045, 0.055, 0.06, 0.07, 0.075, 0.075, 0.07,
            0.06, 0.045, 0.035, 0.03, 0.03, 0.03, 0.035, 0.04, 0.05, 0.055,
            0.06, 0.065, 0.07, 0.075, 0.073, 0.07, 0.065, 0.06, 0.052, 0.045,
            0.03, 0.02, 0.01, 0.003]
H535_dx = [0, 1, 2, 3, 4, 5, 6, 7.5, 10, 11.5,
           13, 15, 16.5, 18, 20, 22, 24, 26, 28.5, 30,
           32, 34, 36, 38, 40, 42, 44, 46, 48, 50,
           52, 54, 56, 58, 62, 65, 68.5, 70, 71, 72,
           74, 76,
           78, 80, 82.5, 85, 87.5, 90, 92.5, 95, 97.5, 100,
           102.5, 105, 107.5, 110, 112.5, 115, 117.5, 120, 122.5, 125,
           127.5, 130, 132.5, 135, 137.5, 140, 142.5, 145, 147.5, 150,
           155, 160, 165, 170, 175, 180, 186]
H535_dy = [0, 0.39, 0.56, 0.63, 0.68, 0.72, 0.74, 0.77, 0.83, 0.87,
           0.82, 0.84, 0.86, 0.88, 0.91, 0.93, 0.95, 0.95, 1.03, 0.955,
           0.955, 0.95, 0.94, 0.92, 0.93, 0.94, 0.955, 0.965, 0.97, 0.98,
           0.975, 0.98, 0.985, 0.95, 1.015, 0.95, 0.53, 0.41, 0.345, 0.29,
           0.22, 0.17,
           0.13, 0.11, 0.095, 0.083, 0.078, 0.072, 0.068, 0.064, 0.06, 0.056,
           0.053, 0.05, 0.047, 0.044, 0.041, 0.038, 0.036, 0.034, 0.032, 0.03,
           0.028, 0.026, 0.025, 0.024, 0.023, 0.022, 0.021, 0.02, 0.019, 0.018,
           0.016, 0.014, 0.013, 0.012, 0.011, 0.01, 0.008]
H535_de = [0, 0.03, 0.05, 0.05, 0.06, 0.06, 0.06, 0.08, 0.1, 0.1,
           0.1, 0.1, 0.1, 0.1, 0.1, 0.1, 0.12, 0.1, 0.12, 0.1,
           0.1, 0.1, 0.1, 0.1, 0.1, 0.1, 0.12, 0.1, 0.12, 0.1,
           0.12, 0.1, 0.1, 0.1, 0.12, 0.1, 0.02, 0.02, 0.02, 0.02,
           0.01, 0.01,
           0, 0, 0, 0, 0, 0, 0, 0, 0, 0,
           0, 0, 0, 0, 0, 0, 0, 0, 0, 0,
           0, 0, 0, 0, 0, 0, 0, 0, 0, 0,
           0, 0, 0, 0, 0, 0, 0]

# ---- H8-10
H810_x = [0, 2, 5, 8, 12, 20, 30, 40, 50, 75,
          100, 150, 188, 190, 193, 196, 200, 205, 210, 220,
          230, 250, 275, 300, 400, 553]
H810_ek3 = [0, 0.21, 0.37, 0.45, 0.475, 0.495, 0.505, 0.515, 0.524, 0.543,
            0.563, 0.60, 0.63, 0.52, 0.35, 0.25, 0.19, 0.175, 0.165, 0.155,
            0.148, 0.136, 0.125, 0.117, 0.097, 0.078]
H810_ek3w = [0, 0.03, 0.03, 0.03, 0.03, 0.025, 0.025, 0.025, 0.025, 0.025,
             0.025, 0.03, 0.035, 0.035, 0.035, 0.035, 0.03, 0.03, 0.03, 0.025,
             0.02, 0.015, 0.01, 0.01, 0.01, 0.01]
H810_ek5 = [0, 0.175, 0.245, 0.265, 0.275, 0.30, 0.325, 0.35, 0.37, 0.44,
            0.515, 0.64, 0.75, 0.64, 0.41, 0.29, 0.25, 0.24, 0.23, 0.22,
            0.21, 0.185, 0.17, 0.155, 0.117, 0.078]
H810_ek5w = [0, 0.01, 0.015, 0.015, 0.015, 0.015, 0.015, 0.015, 0.015, 0.015,
             0.02, 0.025, 0.03, 0.03, 0.03, 0.03, 0.03, 0.03, 0.03, 0.03,
             0.025, 0.02, 0.015, 0.015, 0.01, 0.01]
H810_kd = [0, 0.03, 0.12, 0.26, 0.43, 0.72, 0.87, 0.94, 0.97, 0.995,
           1.0, 1.0, 1.0, 0.96, 0.80, 0.60, 0.45, 0.33, 0.23, 0.136,
           0.078, 0.035, 0.01, 0.003, 0, 0]
H810_kdw = [0, 0.01, 0.03, 0.05, 0.06, 0.06, 0.04, 0.025, 0.015, 0.005,
            0.002, 0.002, 0.002, 0.01, 0.02, 0.03, 0.04, 0.045, 0.045, 0.04,
            0.03, 0.02, 0.01, 0.005, 0.002, 0.002]
H810_dx = [0, 2.5, 5, 7.5, 10, 12.5, 15, 17.5, 20, 22.5,
           25, 27.5, 30, 32.5, 35, 37.5, 40, 42.5, 45, 47.5,
           50, 52.5, 55, 57.5, 60, 62.5, 65, 67.5, 70, 72.5,
           75, 77.5, 80, 82.5, 85, 87.5, 90, 92.5, 95, 97.5,
           100, 102.5, 105, 107.5, 110, 112.5, 115, 117.5, 120, 122.5,
           125, 127.5, 130, 132.5, 135, 137.5, 140, 142.5, 145, 147.5,
           150, 152.5, 155, 157.5, 160, 162.5, 165, 167.5, 170, 172.5,
           175, 177.5, 180, 182.5, 185, 187.5,
           190, 192, 194, 196, 198, 200, 203, 206, 209, 212,
           215, 218, 222, 226, 230, 235, 240, 245, 250, 255,
           260, 265, 270, 275, 280, 285, 290, 295, 300, 305,
           310, 315, 320, 325, 330, 335, 340, 345, 350, 355,
           360, 365, 370, 375, 380, 385, 390, 395, 400, 403,
           406, 410, 415, 420, 425, 430, 435, 440, 445, 450,
           455, 460, 465, 470, 475, 480, 485, 490, 495, 500,
           505, 510, 515, 520, 525, 530, 535, 540, 545, 553]
H810_dy = [0.02, 0.12, 0.20, 0.24, 0.27, 0.25, 0.28, 0.26, 0.28, 0.30,
           0.27, 0.29, 0.31, 0.29, 0.32, 0.34, 0.33, 0.31, 0.35, 0.36,
           0.36, 0.38, 0.35, 0.39, 0.40, 0.42, 0.38, 0.41, 0.42, 0.44,
           0.41, 0.45, 0.43, 0.46, 0.44, 0.47, 0.46, 0.49, 0.47, 0.50,
           0.48, 0.52, 0.50, 0.54, 0.50, 0.55, 0.53, 0.57, 0.55, 0.60,
           0.70, 0.56, 0.55, 0.62, 0.58, 0.60, 0.65, 0.58, 0.55, 0.60,
           0.55, 0.52, 0.57, 0.55, 0.57, 0.59, 0.54, 0.56, 0.55, 0.58,
           0.56, 0.59, 0.58, 0.56, 0.60, 0.62,
           0.42, 0.80, 0.30, 0.11, 0.28, 0.27, 0.25, 0.23, 0.21, 0.20,
           0.18, 0.17, 0.165, 0.155, 0.15, 0.145, 0.14, 0.135, 0.13, 0.125,
           0.12, 0.115, 0.11, 0.108, 0.105, 0.10, 0.10, 0.098, 0.095, 0.092,
           0.09, 0.09, 0.09, 0.088, 0.085, 0.085, 0.085, 0.082, 0.08, 0.08,
           0.08, 0.078, 0.075, 0.072, 0.07, 0.07, 0.07, 0.065, 0.06, 0.05,
           0.04, 0.03, 0.03, 0.03, 0.033, 0.035, 0.033, 0.03, 0.03, 0.032,
           0.03, 0.03, 0.03, 0.03, 0.028, 0.03, 0.03, 0.03, 0.03, 0.032,
           0.03, 0.03, 0.03, 0.03, 0.03, 0.032, 0.03, 0.03, 0.032, 0.03]
H810_de = [0, 0.02, 0.02, 0.03, 0.03, 0.03, 0.03, 0.03, 0.03, 0.03,
           0.03, 0.03, 0.03, 0.03, 0.03, 0.03, 0.03, 0.03, 0.03, 0.03,
           0.04, 0.04, 0.04, 0.04, 0.04, 0.04, 0.04, 0.04, 0.04, 0.04,
           0.04, 0.04, 0.04, 0.04, 0.04, 0.04, 0.04, 0.04, 0.04, 0.04,
           0.05, 0.05, 0.05, 0.05, 0.05, 0.05, 0.05, 0.05, 0.05, 0.05,
           0.06, 0.05, 0.05, 0.05, 0.05, 0.05, 0.05, 0.05, 0.05, 0.05,
           0.05, 0.05, 0.05, 0.05, 0.05, 0.05, 0.05, 0.05, 0.05, 0.05,
           0.05, 0.05, 0.05, 0.05, 0.05, 0.05,
           0.03, 0.07, 0.02, 0.01, 0.02, 0.02, 0.015, 0.015, 0.015, 0.015,
           0.01, 0.01, 0.01, 0.01, 0.01, 0.01, 0.01, 0.01, 0.01, 0.01,
           0.005, 0.005, 0.005, 0.005, 0.005, 0.005, 0.005, 0.005, 0.005, 0.005,
           0.005, 0.005, 0.005, 0.005, 0.005, 0.005, 0.005, 0.005, 0.005, 0.005,
           0.005, 0.005, 0.005, 0.005, 0.005, 0.005, 0.005, 0.005, 0.005, 0.005,
           0.005, 0.005, 0.005, 0.005, 0.005, 0.005, 0.005, 0.005, 0.005, 0.005,
           0.005, 0.005, 0.005, 0.005, 0.005, 0.005, 0.005, 0.005, 0.005, 0.005,
           0.005, 0.005, 0.005, 0.005, 0.005, 0.005, 0.005, 0.005, 0.005, 0.005]

# ---- H8-35
H835_x = [0, 3, 5, 10, 15, 20, 30, 40, 50, 75,
          100, 150, 200, 225, 228, 230, 232, 236, 240, 245,
          250, 260, 280, 300, 330, 370, 400, 500, 600, 764]
H835_ek3 = [0, 0.30, 0.45, 0.64, 0.70, 0.715, 0.722, 0.727, 0.73, 0.74,
            0.75, 0.757, 0.773, 0.78, 0.68, 0.57, 0.45, 0.25, 0.136, 0.087,
            0.078, 0.076, 0.072, 0.068, 0.063, 0.056, 0.049, 0.035, 0.029, 0.023]
H835_ek3w = [0, 0.03, 0.035, 0.03, 0.025, 0.02, 0.02, 0.02, 0.02, 0.02,
             0.02, 0.02, 0.02, 0.02, 0.025, 0.025, 0.025, 0.025, 0.02, 0.015,
             0.01, 0.01, 0.01, 0.01, 0.01, 0.01, 0.01, 0.01, 0.01, 0.01]
H835_ek5 = [0, 0.25, 0.37, 0.466, 0.495, 0.51, 0.52, 0.53, 0.548, 0.58,
            0.61, 0.66, 0.72, 0.757, 0.54, 0.35, 0.21, 0.136, 0.113, 0.105,
            0.10, 0.097, 0.092, 0.087, 0.082, 0.077, 0.074, 0.062, 0.054, 0.047]
H835_ek5w = [0, 0.01, 0.01, 0.01, 0.01, 0.01, 0.01, 0.01, 0.01, 0.01,
             0.01, 0.01, 0.01, 0.01, 0.01, 0.01, 0.01, 0.01, 0.01, 0.01,
             0.01, 0.01, 0.01, 0.01, 0.01, 0.01, 0.01, 0.01, 0.01, 0.01]
H835_kd = [0, 0.08, 0.17, 0.45, 0.61, 0.72, 0.85, 0.91, 0.95, 0.98,
           0.995, 1.0, 1.0, 1.0, 0.91, 0.83, 0.74, 0.58, 0.45, 0.35,
           0.27, 0.175, 0.078, 0.039, 0.016, 0.005, 0.002, 0, 0, 0]
H835_kdw = [0, 0.01, 0.02, 0.05, 0.06, 0.06, 0.04, 0.03, 0.02, 0.01,
            0.005, 0.002, 0.002, 0.002, 0.01, 0.02, 0.03, 0.04, 0.04, 0.04,
            0.04, 0.035, 0.02, 0.01, 0.005, 0.002, 0.002, 0.002, 0.002, 0.002]
H835_dx = [0, 2.5, 5, 7.5, 10, 12.5, 15, 17.5, 20, 22.5,
           25, 27.5, 30, 32.5, 35, 37.5, 40, 42.5, 45, 47.5,
           50, 52.5, 55, 57.5, 60, 62.5, 65, 67.5, 70, 72.5,
           75, 77.5, 80, 82.5, 85, 87.5, 90, 92.5, 95, 97.5,
           100, 102.5, 105, 107.5, 110, 112.5, 115, 117.5, 120, 122.5,
           125, 127.5, 130, 132.5, 135, 137.5, 140, 142.5, 145, 147.5,
           150, 152.5, 155, 157.5, 160, 162.5, 165, 167.5, 170, 172.5,
           175, 177.5, 180, 182.5, 185, 187.5, 190, 192.5, 195, 197.5,
           200, 202.5, 205, 207.5, 210, 212.5, 215, 217.5, 220, 222.5,
           225, 228,
           230, 232, 234, 236, 238, 240, 242, 244, 246, 248,
           250, 253, 256, 259, 262, 265, 268, 271, 275, 280,
           285, 290, 295, 300, 305, 310, 320, 330, 340, 350,
           360, 375, 390, 405, 420, 435, 450, 465, 480, 495,
           510, 525, 540, 555, 570, 585, 600, 615, 630, 645,
           660, 675, 690, 705, 720, 735, 750, 764]
H835_dy = [0.03, 0.13, 0.20, 0.27, 0.30, 0.35, 0.38, 0.36, 0.42, 0.40,
           0.43, 0.45, 0.44, 0.42, 0.47, 0.45, 0.49, 0.47, 0.48, 0.51,
           0.50, 0.48, 0.52, 0.54, 0.52, 0.50, 0.55, 0.53, 0.56, 0.60,
           0.66, 0.62, 0.68, 0.64, 0.60, 0.57, 0.56, 0.59, 0.58, 0.62,
           0.60, 0.61, 0.63, 0.66, 0.70, 0.62, 0.56, 0.53, 0.52, 0.58,
           0.62, 0.66, 0.70, 0.75, 0.86, 0.74, 0.70, 0.72, 0.73, 0.71,
           0.72, 0.69, 0.70, 0.73, 0.68, 0.70, 0.72, 0.69, 0.66, 0.64,
           0.62, 0.58, 0.60, 0.63, 0.64, 0.67, 0.70, 0.73, 0.76, 0.80,
           0.835, 0.86, 0.88, 0.85, 0.82, 0.81, 0.80, 0.84, 0.87, 0.90,
           0.95, 1.025,
           0.88, 0.70, 0.55, 0.46, 0.40, 0.36, 0.32, 0.29, 0.26, 0.23,
           0.21, 0.19, 0.17, 0.155, 0.14, 0.13, 0.12, 0.11, 0.105, 0.10,
           0.098, 0.095, 0.092, 0.09, 0.088, 0.085, 0.08, 0.075, 0.07, 0.065,
           0.06, 0.055, 0.05, 0.047, 0.045, 0.042, 0.04, 0.038, 0.035, 0.033,
           0.03, 0.029, 0.028, 0.026, 0.025, 0.024, 0.022, 0.021, 0.02, 0.019,
           0.018, 0.017, 0.016, 0.016, 0.015, 0.015, 0.014, 0.014]
H835_de = [0.01, 0.02, 0.03, 0.03, 0.04, 0.04, 0.04, 0.04, 0.04, 0.04,
           0.04, 0.04, 0.04, 0.04, 0.04, 0.04, 0.04, 0.04, 0.04, 0.04,
           0.05, 0.05, 0.05, 0.05, 0.05, 0.05, 0.05, 0.05, 0.05, 0.05,
           0.06, 0.05, 0.06, 0.05, 0.05, 0.05, 0.05, 0.05, 0.05, 0.05,
           0.05, 0.05, 0.05, 0.05, 0.06, 0.05, 0.05, 0.05, 0.06, 0.05,
           0.05, 0.05, 0.06, 0.05, 0.07, 0.05, 0.06, 0.05, 0.05, 0.05,
           0.05, 0.05, 0.05, 0.05, 0.05, 0.05, 0.05, 0.05, 0.05, 0.05,
           0.05, 0.05, 0.05, 0.05, 0.05, 0.05, 0.05, 0.05, 0.05, 0.05,
           0.06, 0.05, 0.06, 0.05, 0.05, 0.05, 0.05, 0.05, 0.05, 0.05,
           0.06, 0.07,
           0.05, 0.04, 0.03, 0.02, 0.02, 0.02, 0.02, 0.02, 0.015, 0.015,
           0.01, 0.01, 0.01, 0.01, 0.01, 0.01, 0.01, 0.01, 0.01, 0.01,
           0.005, 0.005, 0.005, 0.005, 0.005, 0.005, 0.005, 0.005, 0.005, 0.005,
           0.005, 0.005, 0.005, 0.005, 0.005, 0.005, 0.005, 0.005, 0.005, 0.005,
           0.005, 0.005, 0.005, 0.005, 0.005, 0.005, 0.005, 0.005, 0.005, 0.005,
           0.005, 0.005, 0.005, 0.005, 0.005, 0.005, 0.005, 0.005]

# ---------------------------------------------------------------- layout
W, H = 1221, 1436
fig = plt.figure(figsize=(W / 100, H / 100), dpi=100)
fig.patch.set_facecolor('white')


def rect(l, t, r, b):
    return [l / W, 1 - b / H, (r - l) / W, (b - t) / H]


COLS = [(84, 619), (667, 1202)]
ROWS = {'S': [(43, 79, 327), (364, 400, 648)],
        'H': [(769, 805, 1052), (1090, 1126, 1373)]}
YLIM = {'S': (-0.06, 1.262), 'H': (-0.065, 1.366)}

PANELS = [
    ('S3-10', 'S', 0, 0, 20, (S310_x, S310_ek3, S310_ek3w, S310_ek5, S310_ek5w, S310_kd, S310_kdw),
     (S310_dx, S310_dy, S310_de)),
    ('S5-35', 'S', 0, 1, 50, (S535_x, S535_ek3, S535_ek3w, S535_ek5, S535_ek5w, S535_kd, S535_kdw),
     (S535_dx, S535_dy, S535_de)),
    ('S8-10', 'S', 1, 0, 100, (S810_x, S810_ek3, S810_ek3w, S810_ek5, S810_ek5w, S810_kd, S810_kdw),
     (S810_dx, S810_dy, S810_de)),
    ('S8-35', 'S', 1, 1, 200, (S835_x, S835_ek3, S835_ek3w, S835_ek5, S835_ek5w, S835_kd, S835_kdw),
     (S835_dx, S835_dy, S835_de)),
    ('H3-10', 'H', 0, 0, 25, (H310_x, H310_ek3, H310_ek3w, H310_ek5, H310_ek5w, H310_kd, H310_kdw),
     (H310_dx, H310_dy, H310_de)),
    ('H5-35', 'H', 0, 1, 50, (H535_x, H535_ek3, H535_ek3w, H535_ek5, H535_ek5w, H535_kd, H535_kdw),
     (H535_dx, H535_dy, H535_de)),
    ('H8-10', 'H', 1, 0, 200, (H810_x, H810_ek3, H810_ek3w, H810_ek5, H810_ek5w, H810_kd, H810_kdw),
     (H810_dx, H810_dy, H810_de)),
    ('H8-35', 'H', 1, 1, 200, (H835_x, H835_ek3, H835_ek3w, H835_ek5, H835_ek5w, H835_kd, H835_kdw),
     (H835_dx, H835_dy, H835_de)),
]


def trim(name, *arrs):
    n = min(len(a) for a in arrs)
    if any(len(a) != n for a in arrs):
        print('length mismatch in', name, [len(a) for a in arrs], file=sys.stderr)
    return [np.asarray(a[:n], dtype=float) for a in arrs]


TICK_C = '#333333'
GRID_C = '#EBEBEB'

for name, grp, row, col, xstep, models, data in PANELS:
    st, sb, pb = ROWS[grp][row]
    l, r = COLS[col]
    # strip
    sax = fig.add_axes(rect(l, st, r, sb))
    sax.set_facecolor('#D9D9D9')
    sax.set_xticks([]); sax.set_yticks([])
    for s in sax.spines.values():
        s.set_color(TICK_C); s.set_linewidth(1.0)
    sax.text(0.5, 0.45, name, transform=sax.transAxes, ha='center', va='center',
             fontsize=16.5, color='#1A1A1A')

    ax = fig.add_axes(rect(l, sb, r, pb))
    ax.set_facecolor('white')
    xm, ek3, ek3w, ek5, ek5w, kd, kdw = trim(name + ' model', *models)
    xd, yd, ed = trim(name + ' data', *data)

    # error bars + points
    m = ed > 0
    ax.vlines(xd[m], yd[m] - ed[m], yd[m] + ed[m], color='#1A1A1A', lw=0.9, zorder=2)
    sns.scatterplot(x=xd, y=yd, ax=ax, marker='o', s=30, facecolor='none',
                    edgecolor='black', linewidth=0.7, zorder=3)
    # ribbons
    for key, y, w in (('EK3', ek3, ek3w), ('EK5', ek5, ek5w), ('Kd', kd, kdw)):
        ax.fill_between(xm, y - w, y + w, color=MODEL_COLORS[key], alpha=0.45, lw=0, zorder=4)
    # lines
    for key, y in (('EK3', ek3), ('EK5', ek5), ('Kd', kd)):
        sns.lineplot(x=xm, y=y, ax=ax, color=MODEL_COLORS[key], lw=2.6, estimator=None,
                     solid_capstyle='butt', solid_joinstyle='round', zorder=5)

    xmax = max(xm.max(), xd.max())
    ax.set_xlim(-0.05 * xmax, 1.05 * xmax)
    ax.set_ylim(*YLIM[grp])
    ax.xaxis.set_major_locator(MultipleLocator(xstep))
    ax.xaxis.set_minor_locator(MultipleLocator(xstep / 2))
    ax.yaxis.set_major_locator(FixedLocator([0, 0.2, 0.4, 0.6, 0.8, 1.0]))
    ax.yaxis.set_minor_locator(FixedLocator([0.1, 0.3, 0.5, 0.7, 0.9, 1.1, 1.2, 1.3]))
    ax.yaxis.set_major_formatter(FormatStrFormatter('%.1f'))
    ax.xaxis.set_major_formatter(FormatStrFormatter('%d'))
    ax.grid(which='major', color=GRID_C, lw=1.2, zorder=0)
    ax.grid(which='minor', color=GRID_C, lw=0.6, zorder=0)
    ax.set_axisbelow(True)
    ax.tick_params(which='major', direction='out', length=3.5, width=0.9, color=TICK_C,
                   labelsize=15, labelcolor='#4D4D4D', pad=2,
                   bottom=True, left=True, labelleft=(col == 0))
    ax.tick_params(which='minor', length=0)
    for s in ax.spines.values():
        s.set_color(TICK_C); s.set_linewidth(1.0); s.set_zorder(6)
    ax.set_xlabel(''); ax.set_ylabel('')

    if col == 1 and row == 0:
        handles = [
            Line2D([], [], ls='', marker='o', mfc='none', mec='black', ms=4.5, mew=0.7),
            Line2D([], [], ls='', marker=''),
            Line2D([], [], color=MODEL_COLORS['EK3'], lw=3.2, solid_capstyle='butt'),
            Line2D([], [], color=MODEL_COLORS['EK5'], lw=3.2, solid_capstyle='butt'),
            Line2D([], [], color=MODEL_COLORS['Kd'], lw=3.2, solid_capstyle='butt'),
        ]
        labels = [LEGEND_LABELS[0], ' ', LEGEND_LABELS[1], LEGEND_LABELS[2], LEGEND_LABELS[3]]
        leg = ax.legend(handles, labels, loc='upper right', bbox_to_anchor=(1, 1),
                        borderaxespad=0, frameon=True, fancybox=False, framealpha=1,
                        edgecolor='black', fontsize=9, handlelength=2.0, handletextpad=0.25,
                        labelspacing=1.25, borderpad=0.8)
        leg.get_frame().set_linewidth(0.9)
        leg.set_zorder(10)

# group titles and axis labels
for grp, ty, yl_y, xl_y in (('S', 22, 362, 690), ('H', 748, 1088, 1418)):
    fig.text(643 / W, 1 - ty / H, 'Soil ' + grp, ha='center', va='center', fontsize=20.5,
             color='black')
    fig.text(22 / W, 1 - yl_y / H, 'C$_w$/C$_i$ ( − )', rotation=90, ha='center',
             va='center', fontsize=17.5, color='black')
    fig.text(643 / W, 1 - xl_y / H, 'V/V$_r$( − )', ha='center', va='center',
             fontsize=17.5, color='black')

fig.savefig('out.png', dpi=100, facecolor='white')
